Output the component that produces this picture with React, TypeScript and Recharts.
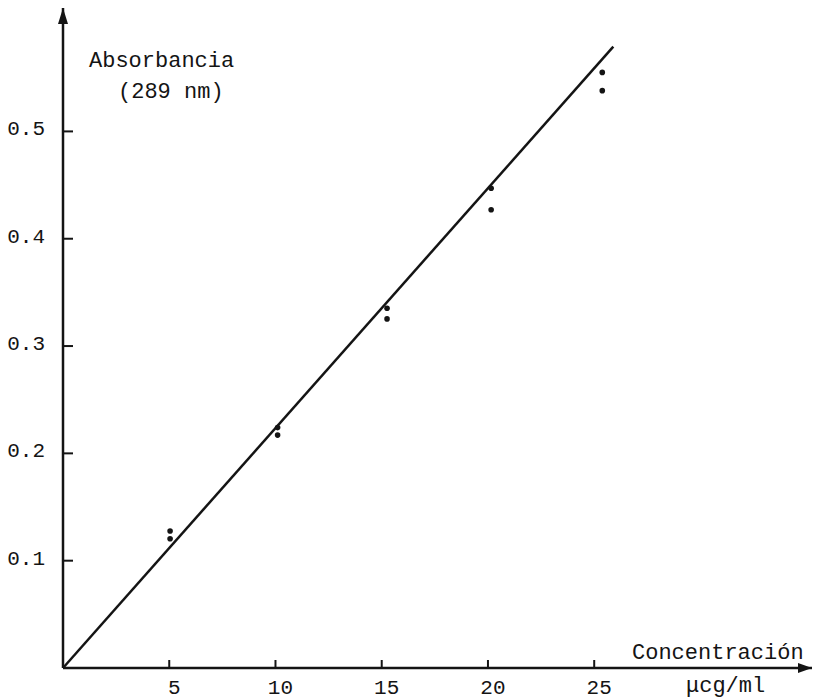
import React from 'react';
import {
  ScatterChart,
  Scatter,
  XAxis,
  YAxis,
  ReferenceLine,
  ReferenceDot,
  Customized,
} from 'recharts';

// ---- data ----
const CONC_X = [5.04, 5.04, 10.1, 10.1, 15.25, 15.25, 20.15, 20.15, 25.38, 25.38];
const ABS_Y = [0.1277, 0.1205, 0.224, 0.217, 0.3352, 0.3253, 0.447, 0.427, 0.555, 0.538];
const FIT_X = [0, 25.9];
const FIT_Y = [0, 0.579];
const X_TICKS = [5, 10, 15, 20, 25];
const Y_TICKS = [0.1, 0.2, 0.3, 0.4, 0.5];
const X_MAX = 35.25;
const Y_MAX = 0.615;

const points = CONC_X.map((x, i) => ({ x, y: ABS_Y[i] }));

const FONT = '"Liberation Mono", "DejaVu Sans Mono", monospace';
const INK = '#141414';

const XTick = (props: any) => {
  const { x, y, payload } = props;
  return (
    <g>
      <line x1={x} y1={y - 8} x2={x} y2={y} stroke={INK} strokeWidth={2} />
      <text x={x + 5} y={y + 26} textAnchor="middle" fontFamily={FONT} fontSize={21} fill={INK}>
        {String(payload.value)}
      </text>
    </g>
  );
};

const YTick = (props: any) => {
  const { x, y, payload } = props;
  return (
    <g>
      <line x1={x} y1={y} x2={x + 10} y2={y} stroke={INK} strokeWidth={2} />
      <text x={x - 18} y={y + 4} textAnchor="end" fontFamily={FONT} fontSize={21} fill={INK}>
        {Number(payload.value).toFixed(1)}
      </text>
    </g>
  );
};

const ArrowUp = (props: any) => {
  const { cx, cy } = props;
  return <path d={`M${cx},${cy} L${cx - 5},${cy + 16} L${cx + 5},${cy + 16} Z`} fill={INK} />;
};

const ArrowRight = (props: any) => {
  const { cx, cy } = props;
  return <path d={`M${cx},${cy} L${cx - 14},${cy - 5} L${cx - 14},${cy + 5} Z`} fill={INK} />;
};

const Dot = (props: any) => {
  const { cx, cy } = props;
  return <circle cx={cx} cy={cy} r={2.8} fill={INK} />;
};

const Labels = () => (
  <g fontFamily={FONT} fontSize={22} fill={INK}>
    <text x={89} y={67}>Absorbancia</text>
    <text x={118} y={98}>(289 nm)</text>
    <text x={632} y={659}>Concentración</text>
    <text x={686} y={692}>μcg/ml</text>
  </g>
);

export default function App() {
  return (
    <div style={{ position: 'absolute', left: 0, top: 0, background: '#fff' }}>
      <ScatterChart
        width={818}
        height={700}
        margin={{ top: 8, right: 6, bottom: 0, left: 0 }}
      >
        <XAxis
          type="number"
          dataKey="x"
          domain={[0, X_MAX]}
          ticks={X_TICKS}
          height={32}
          tickSize={0}
          tickMargin={0}
          tickLine={false}
          axisLine={{ stroke: INK, strokeWidth: 2.5 }}
          tick={<XTick />}
          allowDataOverflow
        />
        <YAxis
          type="number"
          dataKey="y"
          domain={[0, Y_MAX]}
          ticks={Y_TICKS}
          width={63}
          tickSize={0}
          tickMargin={0}
          tickLine={false}
          axisLine={{ stroke: INK, strokeWidth: 2.5 }}
          tick={<YTick />}
          allowDataOverflow
        />
        <ReferenceLine
          segment={[
            { x: FIT_X[0], y: FIT_Y[0] },
            { x: FIT_X[1], y: FIT_Y[1] },
          ]}
          stroke={INK}
          strokeWidth={2.5}
          ifOverflow="visible"
        />
        <Scatter data={points} shape={<Dot />} isAnimationActive={false} />
        <ReferenceDot x={0} y={Y_MAX} shape={<ArrowUp />} ifOverflow="visible" />
        <ReferenceDot x={X_MAX} y={0} shape={<ArrowRight />} ifOverflow="visible" />
        <Customized component={<Labels />} />
      </ScatterChart>
    </div>
  );
}
